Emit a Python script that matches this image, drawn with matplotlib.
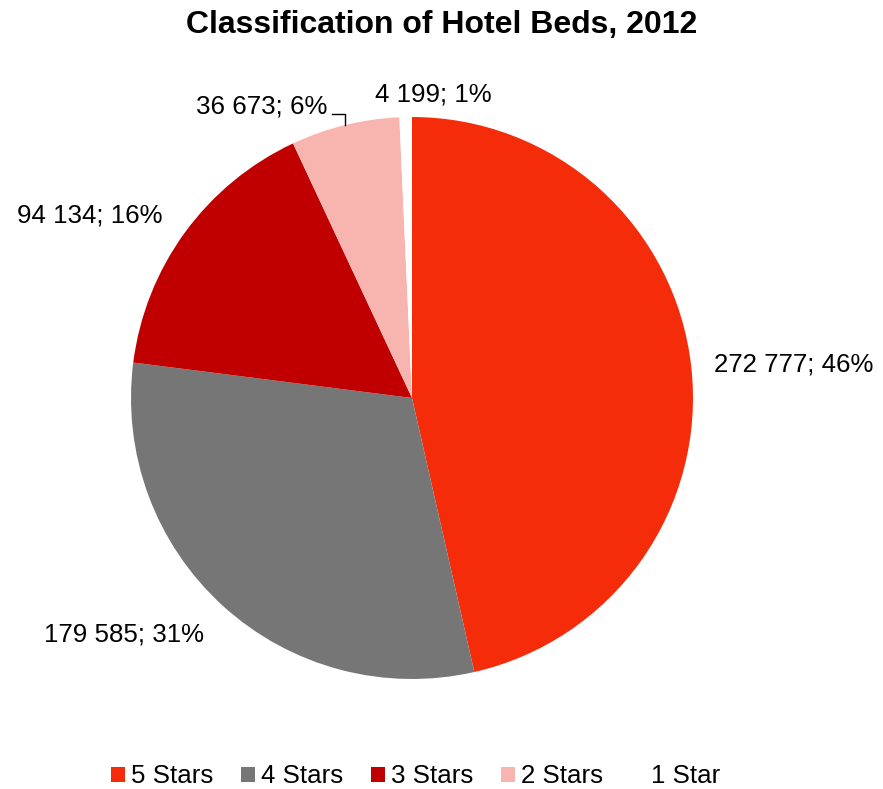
import matplotlib.pyplot as plt
from matplotlib.patches import Patch
import numpy as np

plt.rcParams['font.family'] = ['Liberation Sans', 'DejaVu Sans']

categories = ['5 Stars', '4 Stars', '3 Stars', '2 Stars', '1 Star']
beds = [272777, 179585, 94134, 36673, 4199]
colors = ['#F52C0A', '#767676', '#C00000', '#F8B5B0', '#FFFFFF']

# label placement: radius (in pie radii), alignment and small nudges per slice
label_r = [1.08, 1.10, 1.10, 1.10, 1.08]
label_ha = ['left', 'right', 'right', 'right', 'center']
label_dx = [0.0, 0.0, 0.0, 0.0, 0.1]
label_dy = [0.0, -0.028, 0.0, 0.0, 0.0]


def fmt(v, total):
    return '{:,}'.format(v).replace(',', ' ') + '; {:.0f}%'.format(100 * v / total)


fig = plt.figure(figsize=(8.83, 7.89), dpi=100)
cx, cy, r = 412 / 883, 1 - 398 / 789, 281
ax = fig.add_axes([cx - r / 883, cy - r / 789, 2 * r / 883, 2 * r / 789])

wedges, _ = ax.pie(beds, colors=colors, startangle=90, counterclock=False,
                   radius=1, wedgeprops=dict(linewidth=0))
ax.set_xlim(-1, 1)
ax.set_ylim(-1, 1)
ax.set_aspect('equal')

total = sum(beds)
fs = 18.6
for i, w in enumerate(wedges):
    ang = np.deg2rad((w.theta1 + w.theta2) / 2)
    x = label_r[i] * np.cos(ang) + label_dx[i]
    y = label_r[i] * np.sin(ang) + label_dy[i]
    txt = fmt(beds[i], total)
    if categories[i] == '2 Stars':
        # label pushed up with a leader line
        edge = np.deg2rad(w.theta1 + 0.50 * (w.theta2 - w.theta1))
        ex, ey = np.cos(edge), np.sin(edge)
        ax.plot([ex, ex, ex - 0.046], [ey, ey + 0.04, ey + 0.04], color='black', lw=1, clip_on=False)
        ax.text(ex - 0.064, ey + 0.066, txt, ha='right', va='center', fontsize=fs)
    else:
        ax.text(x, y, txt, ha=label_ha[i], va='center', fontsize=fs)

fig.suptitle('Classification of Hotel Beds, 2012', fontsize=23, fontweight='bold', y=0.987)

handles = [Patch(facecolor=c, edgecolor='none') for c in colors]
fig.legend(handles, categories, loc='center', bbox_to_anchor=(0.471, 0.016), ncol=5,
           frameon=False, fontsize=fs, handlelength=0.54, handleheight=0.54,
           handletextpad=0.23, columnspacing=1.08)

fig.savefig('out.png', dpi=100)
